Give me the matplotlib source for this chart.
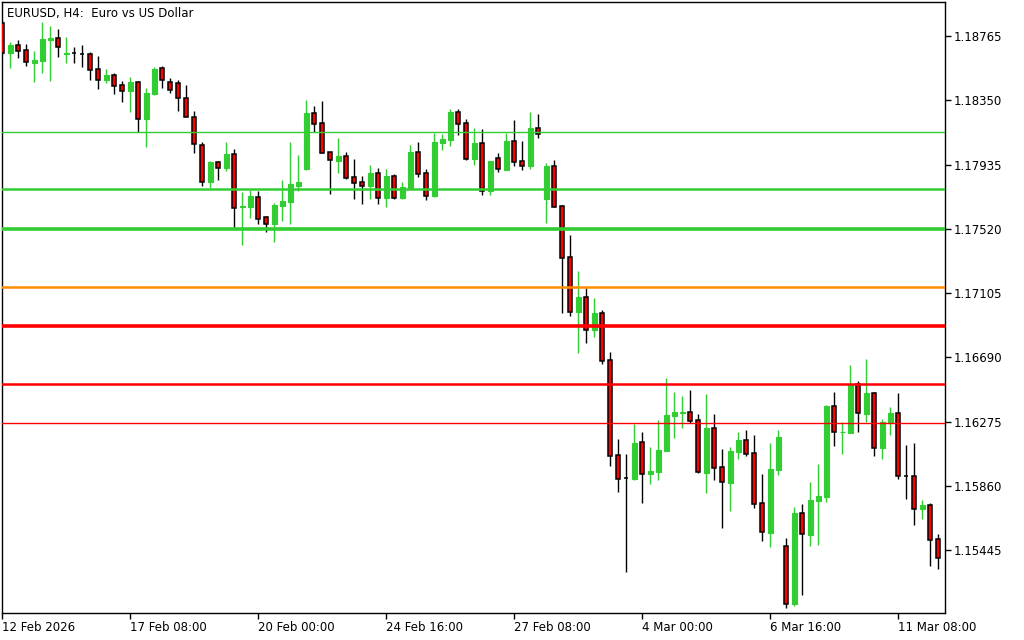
import numpy as np
import matplotlib.pyplot as plt

# EURUSD H4 candles
opens = [
    1.18849, 1.18655, 1.18707, 1.18675, 1.18593, 1.18605, 1.18741, 1.18750, 1.18647, 1.18655,
    1.18652, 1.18649, 1.18552, 1.18481, 1.18513, 1.18448, 1.18410, 1.18468, 1.18229, 1.18390,
    1.18558, 1.18468, 1.18461, 1.18364, 1.18240, 1.18061, 1.17824, 1.17951, 1.17914, 1.18003,
    1.17658, 1.17662, 1.17725, 1.17596, 1.17552, 1.17667, 1.17695, 1.17798, 1.17906, 1.18268,
    1.18203, 1.18016, 1.17959, 1.17990, 1.17852, 1.17820, 1.17798, 1.17880, 1.17720, 1.17861,
    1.17720, 1.17783, 1.18016, 1.17880, 1.17733, 1.18076, 1.18095, 1.18272, 1.18201, 1.17972,
    1.18074, 1.17762, 1.17977, 1.17901, 1.18087, 1.17957, 1.17927, 1.18171, 1.17714, 1.17925,
    1.17667, 1.17337, 1.16984, 1.17079, 1.16868, 1.16976, 1.16670, 1.16056, 1.15908, 1.15901,
    1.16140, 1.15937, 1.15950, 1.16086, 1.16312, 1.16332, 1.16334, 1.16282, 1.15944, 1.16231,
    1.15979, 1.15879, 1.16080, 1.16153, 1.16071, 1.15746, 1.15556, 1.15963, 1.15470, 1.15098,
    1.15682, 1.15543, 1.15763, 1.15789, 1.16373, 1.16205, 1.16202, 1.16517, 1.16325, 1.16459,
    1.16105, 1.16267, 1.16330, 1.15923, 1.15923, 1.15711, 1.15735, 1.15516,
]
highs = [
    1.18868, 1.18726, 1.18739, 1.18713, 1.18668, 1.18855, 1.18830, 1.18810, 1.18759, 1.18692,
    1.18707, 1.18662, 1.18636, 1.18552, 1.18526, 1.18474, 1.18500, 1.18474, 1.18429, 1.18565,
    1.18571, 1.18494, 1.18481, 1.18448, 1.18280, 1.18078, 1.17957, 1.17957, 1.18080, 1.18035,
    1.17757, 1.17770, 1.17764, 1.17602, 1.17686, 1.17835, 1.18080, 1.17996, 1.18352, 1.18313,
    1.18345, 1.18016, 1.18106, 1.18016, 1.17970, 1.17861, 1.17932, 1.17912, 1.17906, 1.17874,
    1.17822, 1.18061, 1.18080, 1.17906, 1.18140, 1.18132, 1.18293, 1.18293, 1.18229, 1.18171,
    1.18164, 1.17957, 1.18009, 1.18138, 1.18222, 1.18087, 1.18274, 1.18261, 1.17945, 1.17964,
    1.17671, 1.17479, 1.17247, 1.17137, 1.17072, 1.16995, 1.16724, 1.16162, 1.16065, 1.16260,
    1.16207, 1.16110, 1.16284, 1.16556, 1.16465, 1.16439, 1.16478, 1.16323, 1.16452, 1.16323,
    1.16097, 1.16110, 1.16207, 1.16220, 1.16187, 1.15936, 1.16136, 1.16220, 1.15522, 1.15722,
    1.15742, 1.15884, 1.16000, 1.16381, 1.16465, 1.16271, 1.16640, 1.16536, 1.16678, 1.16465,
    1.16291, 1.16368, 1.16459, 1.16123, 1.16136, 1.15768, 1.15748, 1.15548,
]
lows = [
    1.18642, 1.18558, 1.18623, 1.18571, 1.18468, 1.18526, 1.18474, 1.18629, 1.18591, 1.18593,
    1.18565, 1.18481, 1.18423, 1.18461, 1.18390, 1.18339, 1.18274, 1.18145, 1.18048, 1.18384,
    1.18429, 1.18397, 1.18280, 1.18242, 1.18011, 1.17796, 1.17781, 1.17835, 1.17895, 1.17527,
    1.17417, 1.17591, 1.17552, 1.17501, 1.17436, 1.17572, 1.17552, 1.17766, 1.17899, 1.18147,
    1.18007, 1.17746, 1.17882, 1.17843, 1.17714, 1.17682, 1.17714, 1.17682, 1.17662, 1.17714,
    1.17714, 1.17783, 1.17856, 1.17707, 1.17727, 1.18029, 1.18056, 1.18127, 1.17964, 1.17932,
    1.17740, 1.17738, 1.17886, 1.17901, 1.17927, 1.17901, 1.17908, 1.18108, 1.17559, 1.17662,
    1.16978, 1.16958, 1.16719, 1.16784, 1.16822, 1.16648, 1.15989, 1.15821, 1.15304, 1.15897,
    1.15750, 1.15873, 1.15897, 1.16086, 1.16170, 1.16235, 1.16267, 1.15944, 1.15815, 1.15899,
    1.15589, 1.15698, 1.16034, 1.16054, 1.15718, 1.15505, 1.15466, 1.15931, 1.15072, 1.15085,
    1.15154, 1.15472, 1.15479, 1.15757, 1.16118, 1.16067, 1.16202, 1.16209, 1.16273, 1.16054,
    1.16034, 1.16189, 1.15905, 1.15776, 1.15608, 1.15647, 1.15343, 1.15324,
]
closes = [
    1.18655, 1.18707, 1.18668, 1.18597, 1.18610, 1.18746, 1.18752, 1.18692, 1.18655, 1.18655,
    1.18649, 1.18545, 1.18481, 1.18513, 1.18442, 1.18410, 1.18468, 1.18229, 1.18397, 1.18552,
    1.18481, 1.18416, 1.18364, 1.18242, 1.18065, 1.17824, 1.17951, 1.17914, 1.18003, 1.17656,
    1.17667, 1.17731, 1.17585, 1.17552, 1.17673, 1.17699, 1.17809, 1.17822, 1.18268, 1.18198,
    1.18009, 1.17962, 1.17990, 1.17850, 1.17817, 1.17798, 1.17880, 1.17720, 1.17861, 1.17720,
    1.17790, 1.18016, 1.17875, 1.17733, 1.18080, 1.18100, 1.18274, 1.18198, 1.17972, 1.18074,
    1.17762, 1.17957, 1.17904, 1.18087, 1.17953, 1.17927, 1.18171, 1.18134, 1.17925, 1.17662,
    1.17333, 1.16984, 1.17079, 1.16868, 1.16976, 1.16667, 1.16054, 1.15905, 1.15908, 1.16136,
    1.15937, 1.15955, 1.16091, 1.16317, 1.16336, 1.16334, 1.16280, 1.15946, 1.16233, 1.15976,
    1.15882, 1.16084, 1.16155, 1.16067, 1.15744, 1.15559, 1.15968, 1.16175, 1.15094, 1.15684,
    1.15546, 1.15768, 1.15793, 1.16375, 1.16205, 1.16207, 1.16510, 1.16328, 1.16459, 1.16105,
    1.16271, 1.16330, 1.15925, 1.15923, 1.15711, 1.15735, 1.15511, 1.15395,
]

time_tick_bars = [0, 16, 32, 48, 64, 80, 96, 112]
time_tick_labels = ["12 Feb 2026", "17 Feb 08:00", "20 Feb 00:00", "24 Feb 16:00",
                    "27 Feb 08:00", "4 Mar 00:00", "6 Mar 16:00", "11 Mar 08:00"]
price_ticks = [1.18765, 1.18350, 1.17935, 1.17520, 1.17105,
               1.16690, 1.16275, 1.15860, 1.15445]

# horizontal levels drawn on the chart
levels = [1.18146, 1.17780, 1.17520, 1.17145, 1.16890, 1.16519, 1.16263]
level_colors = ["#32CD32", "#32CD32", "#32CD32", "#FF8C00", "#FF0000", "#FF0000", "#FF0000"]
level_widths = [1.0, 1.8, 2.6, 1.8, 2.6, 1.8, 1.0]

BULL = "#32CD32"
BEAR = "#FF0000"


def main() -> None:
    o = np.array(opens)
    h = np.array(highs)
    l = np.array(lows)
    c = np.array(closes)
    x = np.arange(len(o))
    bull = c > o
    bear = ~bull

    fig = plt.figure(figsize=(10.24, 6.4), dpi=100)
    ax = fig.add_axes([2 / 1024, 27 / 640, 943 / 1024, 611 / 640])

    # wicks
    ax.vlines(x[bull], l[bull], h[bull], color=BULL, lw=1, zorder=2)
    ax.vlines(x[bear], l[bear], h[bear], color="black", lw=1, zorder=2)

    # bodies
    ax.bar(x[bull], (c - o)[bull], bottom=o[bull], width=0.6,
           color=BULL, edgecolor=BULL, lw=0.8, zorder=3)
    ax.bar(x[bear], (o - c)[bear], bottom=c[bear], width=0.52,
           color=BEAR, edgecolor="black", lw=1.1, zorder=3)

    for p, col, lw in zip(levels, level_colors, level_widths):
        ax.axhline(p, color=col, lw=lw, zorder=4)

    ax.set_xlim(-0.04, 117.84)
    ax.set_ylim(1.15038, 1.18985)

    ax.yaxis.tick_right()
    ax.set_yticks(price_ticks)
    ax.set_yticklabels([f"{p:.5f}" for p in price_ticks])
    ax.set_xticks(time_tick_bars)
    ax.set_xticklabels(time_tick_labels, ha="left")
    ax.tick_params(axis="both", direction="out", length=4, width=1,
                   labelsize=8.5, colors="black")
    ax.tick_params(axis="y", pad=2)
    ax.tick_params(axis="x", pad=2)
    for s in ax.spines.values():
        s.set_color("black")
        s.set_linewidth(1)

    ax.text(0.0053, 0.992, "EURUSD, H4:  Euro vs US Dollar", transform=ax.transAxes,
            ha="left", va="top", fontsize=8.5, zorder=5)

    fig.savefig("out.png", dpi=100, facecolor="white")


if __name__ == "__main__":
    main()
